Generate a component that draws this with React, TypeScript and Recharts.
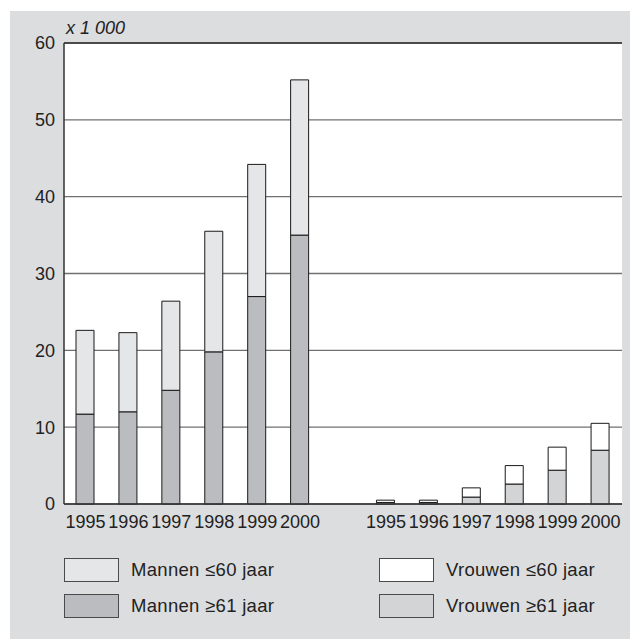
import React from "react";
import {
  BarChart,
  Bar,
  XAxis,
  YAxis,
  CartesianGrid,
  ReferenceLine,
} from "recharts";

const years = ["1995", "1996", "1997", "1998", "1999", "2000"];
const menOld = [11.7, 12.0, 14.8, 19.8, 27.0, 35.0];
const menYoung = [10.9, 10.3, 11.6, 15.7, 17.2, 20.2];
const womenOld = [0.2, 0.2, 0.9, 2.6, 4.4, 7.0];
const womenYoung = [0.3, 0.3, 1.2, 2.4, 3.0, 3.5];
const yTicks = [0, 10, 20, 30, 40, 50, 60];

const series = [
  { key: "menYoung", label: "Mannen \u226460 jaar", color: "#e5e6e8" },
  { key: "menOld", label: "Mannen \u226561 jaar", color: "#bbbcbf" },
  { key: "womenYoung", label: "Vrouwen \u226460 jaar", color: "#ffffff" },
  { key: "womenOld", label: "Vrouwen \u226561 jaar", color: "#d3d4d6" },
];

const data = [
  ...years.map((y, i) => ({ key: "m" + y, menOld: menOld[i], menYoung: menYoung[i] })),
  { key: "gap" },
  ...years.map((y, i) => ({ key: "w" + y, womenOld: womenOld[i], womenYoung: womenYoung[i] })),
];

const FONT = "'Liberation Sans', Arial, Helvetica, sans-serif";
const TEXT = "#222";

function LegendItem({ s, x, y }) {
  return (
    <div style={{ position: "absolute", left: x, top: y, display: "flex", alignItems: "center" }}>
      <div
        style={{
          width: 53,
          height: 22,
          background: s.color,
          border: "1px solid #4a4a4a",
        }}
      />
      <span style={{ marginLeft: 12, fontSize: 18.5, letterSpacing: 0.3, color: TEXT }}>{s.label}</span>
    </div>
  );
}

export default function App() {
  return (
    <div style={{ position: "relative", width: 630, height: 639, fontFamily: FONT, overflow: "hidden" }}>
      <style>{"body{margin:0}"}</style>
      <div style={{ position: "absolute", left: 10, top: 11, right: 0, bottom: 0, background: "#dcdddf" }} />
      <span
        style={{
          position: "absolute",
          left: 66,
          top: 18,
          fontSize: 18,
          fontStyle: "italic",
          color: TEXT,
        }}
      >
        x 1 000
      </span>
      <div style={{ position: "absolute", left: 0, top: 0 }}>
        <BarChart
          width={630}
          height={540}
          data={data}
          margin={{ top: 43, right: 8, left: 0, bottom: 0 }}
        >
          <CartesianGrid vertical={false} fill="#ffffff" stroke="#707070" strokeWidth={1.3} />
          <XAxis
            dataKey="key"
            height={36}
            interval={0}
            tickSize={0}
            tickMargin={11}
            tickFormatter={(k) => (k === "gap" ? "" : k.slice(1))}
            tick={{ fontSize: 18, fill: TEXT }}
            axisLine={{ stroke: "#333", strokeWidth: 1.5 }}
          />
          <YAxis
            width={64}
            domain={[0, 60]}
            ticks={yTicks}
            interval={0}
            tickSize={0}
            tickMargin={9}
            tick={{ fontSize: 18, fill: TEXT }}
            axisLine={{ stroke: "#333", strokeWidth: 1.5 }}
          />
          <YAxis
            yAxisId="right"
            orientation="right"
            width={0}
            domain={[0, 60]}
            tick={false}
            tickLine={false}
            axisLine={{ stroke: "#333", strokeWidth: 1.5 }}
          />
          <ReferenceLine y={60} stroke="#333" strokeWidth={1.5} />
          {[series[1], series[0], series[3], series[2]].map((s) => (
            <Bar
              key={s.key}
              dataKey={s.key}
              stackId="a"
              fill={s.color}
              stroke="#1a1a1a"
              strokeWidth={1}
              barSize={18}
              isAnimationActive={false}
            />
          ))}
        </BarChart>
      </div>
      <LegendItem s={series[0]} x={64} y={558} />
      <LegendItem s={series[1]} x={64} y={594} />
      <LegendItem s={series[2]} x={379} y={558} />
      <LegendItem s={series[3]} x={379} y={594} />
    </div>
  );
}
